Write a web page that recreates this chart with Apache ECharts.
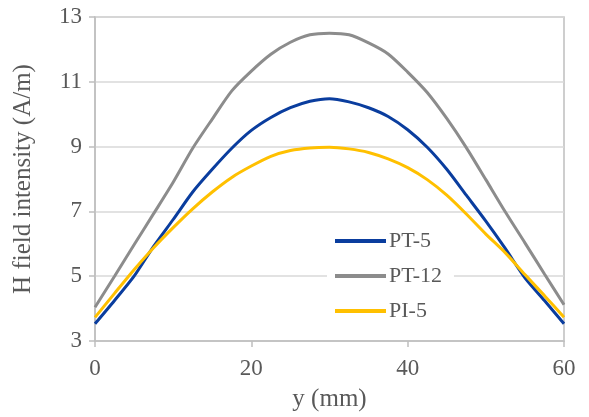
<!DOCTYPE html>
<html>
<head>
<meta charset="utf-8">
<script src="https://cdn.jsdelivr.net/npm/echarts@6/dist/echarts.min.js"></script>
<style>
  html, body { margin: 0; padding: 0; background: #fff; }
  #chart { width: 589px; height: 417px; }
</style>
</head>
<body>
<div id="chart"></div>
<script>
// y position (mm)
var yPos = [0, 2.5, 5, 7.5, 10, 12.5, 15, 17.5, 20, 22.5, 25, 27.5, 30,
            32.5, 35, 37.5, 40, 42.5, 45, 47.5, 50, 52.5, 55, 57.5, 60];
// H field intensity (A/m)
var pt5  = [3.53, 4.25, 5.0, 5.92, 6.75, 7.6, 8.3, 8.95, 9.5, 9.9, 10.2, 10.4, 10.48,
            10.38, 10.2, 9.93, 9.52, 8.98, 8.3, 7.5, 6.7, 5.85, 4.95, 4.25, 3.53];
var pt12 = [4.04, 5.0, 5.97, 6.93, 7.9, 8.95, 9.85, 10.72, 11.33, 11.85, 12.22, 12.45, 12.5,
            12.45, 12.2, 11.86, 11.3, 10.67, 9.87, 8.97, 7.98, 6.98, 6.03, 5.07, 4.12];
var pi5  = [3.73, 4.47, 5.2, 5.88, 6.5, 7.08, 7.6, 8.05, 8.4, 8.7, 8.88, 8.96, 8.98,
            8.93, 8.82, 8.62, 8.35, 7.98, 7.5, 6.92, 6.3, 5.72, 5.05, 4.4, 3.73];
var seriesNames = ['PT-5', 'PT-12', 'PI-5'];
var seriesColors = ['#0a3d9e', '#8c8c8c', '#ffc000'];

function pairs(vals) {
    return yPos.map(function (x, i) { return [x, vals[i]]; });
}

var font = '"Liberation Serif", "Times New Roman", serif';
var chart = echarts.init(document.getElementById('chart'));

var option = {
    animation: false,
    textStyle: { fontFamily: font },
    grid: {
        left: 95, right: 25, top: 17, bottom: 73,
        show: true,
        borderColor: '#bfbfbf',
        borderWidth: 1.5
    },
    legend: {
        data: seriesNames,
        orient: 'vertical',
        left: 327,
        top: 228,
        icon: 'rect',
        itemWidth: 51,
        itemHeight: 4,
        itemGap: 13,
        padding: [2, 12, 2, 8],
        backgroundColor: '#fff',
        textStyle: { fontFamily: font, fontSize: 22, color: '#595959', padding: [0, 0, 0, -2] }
    },
    xAxis: {
        type: 'value',
        min: 0, max: 60, interval: 20,
        name: 'y (mm)',
        nameLocation: 'middle',
        nameGap: 46,
        nameTextStyle: { fontFamily: font, fontSize: 25, color: '#595959' },
        axisLine: { show: true, lineStyle: { color: '#bfbfbf', width: 1.5 } },
        axisTick: { show: true, length: 6, lineStyle: { color: '#bfbfbf', width: 1.5 } },
        axisLabel: { fontFamily: font, fontSize: 23, color: '#595959', margin: 16 },
        splitLine: { show: false }
    },
    yAxis: {
        type: 'value',
        min: 3, max: 13, interval: 2,
        name: 'H field intensity (A/m)',
        nameLocation: 'middle',
        nameGap: 59,
        nameTextStyle: { fontFamily: font, fontSize: 25, color: '#595959' },
        axisLine: { show: true, lineStyle: { color: '#bfbfbf', width: 1.5 } },
        axisTick: { show: true, length: 6, lineStyle: { color: '#bfbfbf', width: 1.5 } },
        axisLabel: { fontFamily: font, fontSize: 23, color: '#595959', margin: 13 },
        splitLine: { show: true, lineStyle: { color: '#d9d9d9', width: 1.5 } }
    },
    series: [pt5, pt12, pi5].map(function (vals, i) {
        return {
            name: seriesNames[i],
            type: 'line',
            data: pairs(vals),
            smooth: 0.25,
            showSymbol: false,
            symbol: 'none',
            color: seriesColors[i],
            lineStyle: { color: seriesColors[i], width: 3 }
        };
    })
};

chart.setOption(option);
</script>
</body>
</html>
